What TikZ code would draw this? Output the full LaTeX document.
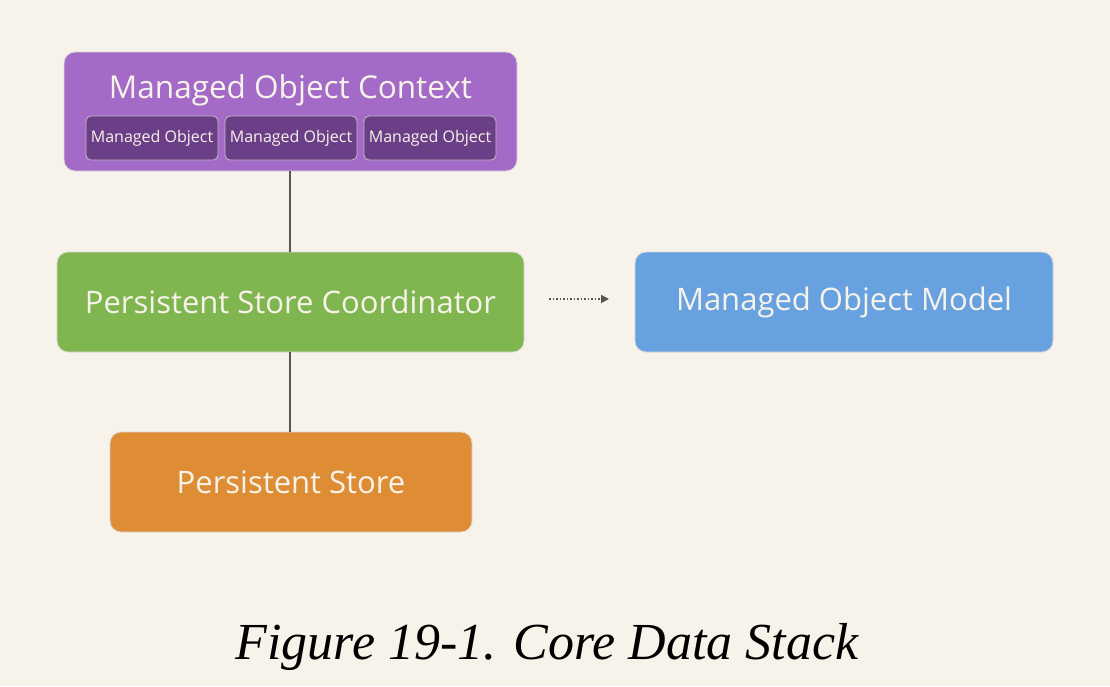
\documentclass[tikz,border=0pt]{standalone}
\usepackage{fontspec}
\setmainfont{Open Sans}
\newfontfamily\capfont{Liberation Serif}
\usetikzlibrary{arrows.meta}

\definecolor{paper}{HTML}{F7F3EA}
\definecolor{ctxpurple}{HTML}{A36BC7}
\definecolor{objpurple}{HTML}{6B3E88}
\definecolor{coordgreen}{HTML}{80B64F}
\definecolor{modelblue}{HTML}{67A1E0}
\definecolor{storeorange}{HTML}{DF8D35}
\definecolor{linkgray}{HTML}{555555}

\tikzset{
  layer/.style={draw=white!85!black,line width=0.8pt,rounded corners=11pt,text=paper,
    inner sep=0pt,font=\fontsize{31}{36}\selectfont},
  objbox/.style={draw=white!75!black,line width=0.8pt,rounded corners=5pt,fill=objpurple,
    text=paper,inner sep=0pt,minimum width=132pt,minimum height=44pt,font=\fontsize{16}{19}\selectfont},
  link/.style={linkgray,line width=1.3pt}
}

\begin{document}
\begin{tikzpicture}[x=1pt,y=-1pt]
\fill[paper] (0,0) rectangle (1110,686);
\useasboundingbox (0,0) rectangle (1110,686);
% context with its objects
\node[layer,fill=ctxpurple,minimum width=453pt,minimum height=119pt] (context) at (290.5,111.5) {};
\node[text=paper,font=\fontsize{31.5}{36}\selectfont] (contexttitle) at (290.5,90) {Managed Object Context};
\node[objbox] (obj1) at (152,138) {Managed Object};
\node[objbox] (obj2) at (291,138) {Managed Object};
\node[objbox] (obj3) at (430,138) {Managed Object};
% the stack
\node[layer,fill=coordgreen,minimum width=467pt,minimum height=100pt] (coordinator) at (290.5,302) {Persistent Store Coordinator};
\node[layer,fill=modelblue,minimum width=418pt,minimum height=100pt] (model) at (844,302) {Managed Object Model};
\node[layer,fill=storeorange,minimum width=362pt,minimum height=100pt] (store) at (291,482) {Persistent Store};
\draw[link] (context.south -| 290,0) -- (coordinator.north -| 290,0);
\draw[link] (coordinator.south -| 290,0) -- (store.north -| 290,0);
\coordinate (dotstart) at (549,299);
\coordinate (dotend) at (609,299);
\draw[link,line width=1.5pt,dotted,-{Triangle[length=8pt,width=8pt]}] (dotstart) -- (dotend);
% caption
\node[font=\capfont\itshape\fontsize{52}{58}\selectfont] (caption) at (547,647) {Figure 19-1. Core Data Stack};
\end{tikzpicture}
\end{document}
